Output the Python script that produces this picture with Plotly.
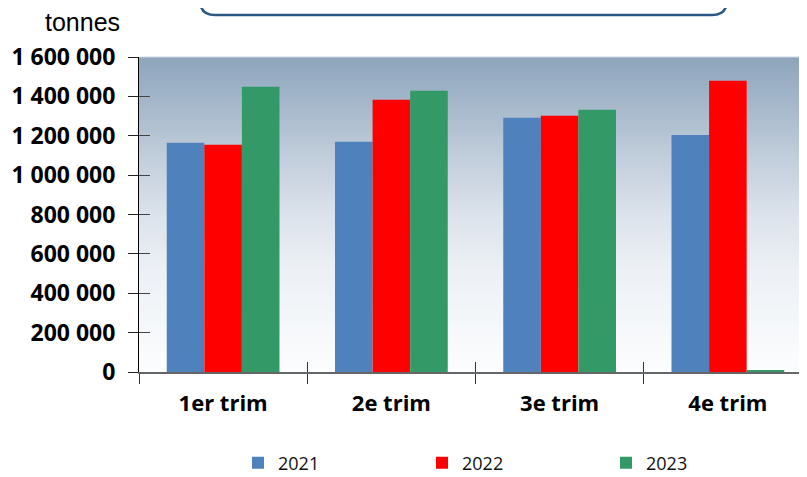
import plotly.graph_objects as go

categories = ["1er trim", "2e trim", "3e trim", "4e trim"]
years = ["2021", "2022", "2023"]
values_2021 = [1164000, 1169000, 1291000, 1204000]
values_2022 = [1154000, 1383000, 1301000, 1479000]
values_2023 = [1449000, 1428000, 1332000, 10000]
series = [values_2021, values_2022, values_2023]
colors = ["#4f81bd", "#ff0000", "#339966"]
tick_vals = [0, 200000, 400000, 600000, 800000, 1000000, 1200000, 1400000, 1600000]
tick_text = ["0", "200 000", "400 000", "600 000", "800 000",
             "1 000 000", "1 200 000", "1 400 000", "1 600 000"]

# page body has an 8px margin: work in screen coordinates and shift
OFF = 8
W, H = 807 - OFF, 510
ML, MR, MT = 139 - OFF, 0, 57 - OFF
MB = H - (372 - OFF)
PW, PH = W - ML - MR, H - MT - MB


def px(x):
    return (x - OFF - ML) / PW


def py(y):
    return (H - MB - (y - OFF)) / PH


fig = go.Figure()
for name, vals, col in zip(years, series, colors):
    fig.add_trace(go.Bar(x=categories, y=vals, name=name, marker_color=col,
                         marker_line_width=0))

# dummy trace for overlay axes (inner tick halves)
fig.add_trace(go.Scatter(x=[None], y=[None], xaxis="x2", yaxis="y2",
                         showlegend=False, hoverinfo="skip"))


def lerp(c1, c2, t):
    return tuple(round(a + (b - a) * t) for a, b in zip(c1, c2))


stops = [(0.0, (0x8d, 0xa4, 0xbc)), (0.33, (0xc3, 0xcf, 0xdc)), (0.5, (0xdb, 0xe2, 0xeb)),
         (0.67, (0xec, 0xf0, 0xf5)), (1.0, (0xfc, 0xfd, 0xfe))]


def grad(t):
    for (t0, c0), (t1, c1) in zip(stops[:-1], stops[1:]):
        if t <= t1:
            return lerp(c0, c1, (t - t0) / (t1 - t0))
    return stops[-1][1]


shapes = []
N = 105
for i in range(N):
    t = (i + 0.5) / N
    c = grad(t)
    y1 = 1 - i / N
    y0 = 1 - (i + 1) / N
    shapes.append(dict(type="rect", xref="paper", yref="paper", x0=0, x1=1,
                       y0=max(0, y0 - 0.002), y1=y1, fillcolor="rgb(%d,%d,%d)" % c,
                       line_width=0, layer="below"))
shapes.append(dict(type="line", xref="paper", yref="paper", x0=0, x1=1, y0=1, y1=1,
                   line=dict(color="#cfd8e0", width=1), layer="below"))

# rounded title box
bx0, bx1, by0, by1, r = 200, 727, -30, 15, 15
path = (f"M {px(bx0)},{py(by0)} L {px(bx0)},{py(by1 - r)} "
        f"Q {px(bx0)},{py(by1)} {px(bx0 + r)},{py(by1)} "
        f"L {px(bx1 - r)},{py(by1)} "
        f"Q {px(bx1)},{py(by1)} {px(bx1)},{py(by1 - r)} "
        f"L {px(bx1)},{py(by0)}")
shapes.append(dict(type="path", xref="paper", yref="paper", path=path,
                   line=dict(color="#2b5887", width=2.5)))

cat_w = 168.25
xr = [-0.5, -0.5 + PW / cat_w]

fig.update_layout(
    width=W, height=H, autosize=False,
    margin=dict(l=ML, r=MR, t=MT, b=MB, pad=0),
    paper_bgcolor="white", plot_bgcolor="rgba(0,0,0,0)",
    barmode="group", bargap=0.33, bargroupgap=0,
    shapes=shapes,
    xaxis=dict(type="category", range=xr, tickson="boundaries", ticks="outside",
               ticklen=10, tickcolor="#333", tickwidth=1,
               showline=True, linecolor="#666", linewidth=2, showgrid=False,
               tickfont=dict(family="Open Sans", size=22, color="black", weight="bold"),
               ticklabelstandoff=11, zeroline=False),
    yaxis=dict(range=[0, 1600000], tickvals=tick_vals, ticktext=tick_text,
               ticks="outside", ticklen=10, tickcolor="#222", tickwidth=1,
               showline=True, linecolor="black", linewidth=1, showgrid=False,
               zeroline=False,
               tickfont=dict(family="Open Sans", size=23, color="black", weight="bold"),
               ticklabelstandoff=8),
    xaxis2=dict(overlaying="x", anchor="y", range=xr, type="linear",
                tickvals=[-0.5, 0.5, 1.5, 2.5], ticks="inside", ticklen=10,
                tickcolor="#333", tickwidth=1, showticklabels=False, showline=False,
                showgrid=False, zeroline=False, side="bottom"),
    yaxis2=dict(overlaying="y", anchor="x", range=[0, 1600000], tickvals=tick_vals,
                ticks="inside", ticklen=11, tickcolor="#444", tickwidth=1,
                showticklabels=False, showline=False, showgrid=False, zeroline=False,
                side="left"),
    legend=dict(orientation="h", x=px(238), xanchor="left", y=py(463), yanchor="middle",
                entrywidth=139, entrywidthmode="pixels",
                font=dict(family="Open Sans", size=18, color="#111"),
                bgcolor="rgba(0,0,0,0)"),
    annotations=[dict(text="tonnes", xref="paper", yref="paper", x=px(82), y=py(22),
                      xanchor="center", yanchor="middle", showarrow=False,
                      font=dict(family="Liberation Sans", size=25, color="black"))],
)

fig.write_html("out.html")
